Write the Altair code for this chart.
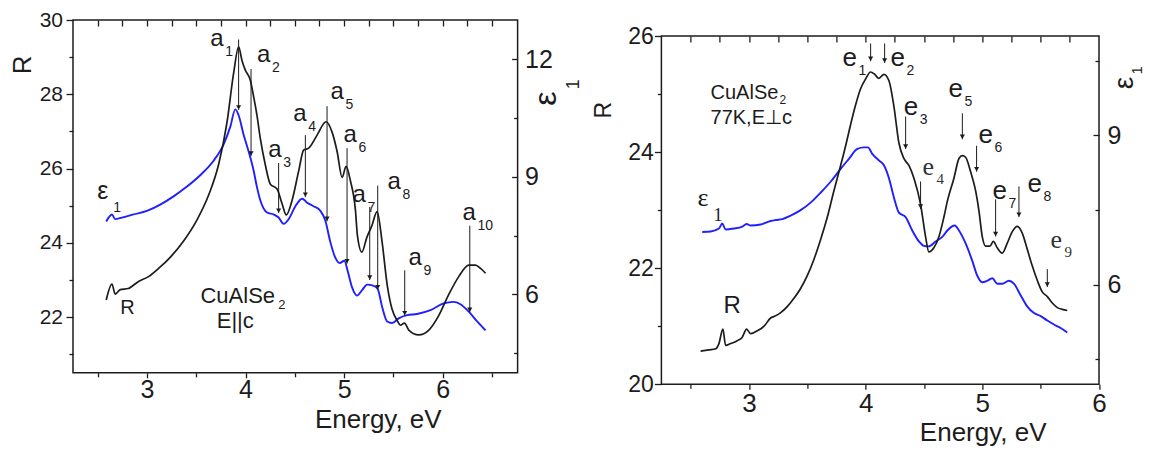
import altair as alt
import pandas as pd

# ---------------- left panel (E || c) ----------------
L_E_R = [2.587, 2.645, 2.678, 2.73, 2.81, 2.915, 3.016, 3.118, 3.236, 3.372, 3.508, 3.625, 3.727, 3.812,
         3.879, 3.93, 3.964, 3.998, 4.049, 4.082, 4.117, 4.15, 4.20, 4.252, 4.32, 4.37, 4.414, 4.472,
         4.539, 4.59, 4.64, 4.726, 4.817, 4.878, 4.929, 4.98, 5.02, 5.064, 5.115, 5.135, 5.18, 5.23,
         5.28, 5.335, 5.386, 5.437, 5.487, 5.538, 5.572, 5.612, 5.656, 5.757, 5.86, 5.96, 6.062, 6.163,
         6.265, 6.333, 6.384, 6.435]
L_R = [22.46, 22.89, 22.62, 22.74, 22.77, 22.96, 23.09, 23.31, 23.61, 24.05, 24.62, 25.28, 26.11, 27.24,
       28.56, 29.28, 28.91, 28.65, 28.38, 27.94, 27.42, 26.81, 26.11, 25.58, 25.45, 25.06, 24.75, 25.14,
       25.93, 26.50, 26.55, 26.90, 27.26, 26.98, 26.46, 25.76, 26.06, 25.67, 24.88, 24.20, 23.75, 24.14,
       24.45, 24.84, 24.01, 22.87, 22.21, 21.91, 21.78, 21.84, 21.65, 21.52, 21.65, 22.04, 22.61, 23.09,
       23.40, 23.40, 23.31, 23.18]
L_E_EPS = [2.587, 2.645, 2.678, 2.746, 2.864, 3.0, 3.135, 3.27, 3.406, 3.54, 3.676, 3.778, 3.846, 3.896,
           3.93, 3.98, 4.03, 4.082, 4.115, 4.15, 4.218, 4.285, 4.336, 4.387, 4.438, 4.506, 4.574, 4.625,
           4.69, 4.76, 4.81, 4.86, 4.912, 4.955, 5.003, 5.037, 5.081, 5.132, 5.183, 5.234, 5.30, 5.341,
           5.386, 5.437, 5.487, 5.554, 5.64, 5.74, 5.876, 6.01, 6.11, 6.18, 6.265, 6.35, 6.435]
L_EPS = [7.86, 8.04, 7.92, 7.96, 8.04, 8.13, 8.29, 8.50, 8.75, 9.04, 9.41, 9.83, 10.28, 10.72,
         10.57, 10.08, 9.66, 9.16, 8.75, 8.40, 8.09, 8.04, 7.96, 7.80, 7.92, 8.25, 8.44, 8.34,
         8.25, 8.13, 7.88, 7.34, 6.93, 6.80, 6.86, 6.59, 6.18, 5.97, 6.11, 6.25, 6.22, 6.14,
         5.68, 5.31, 5.27, 5.39, 5.47, 5.50, 5.60, 5.77, 5.81, 5.75, 5.56, 5.31, 5.08]

L_MARK_E = [3.930, 4.056, 4.336, 4.607, 4.827, 5.030, 5.260, 5.341, 5.615, 6.275]
L_MARK_TOP = [29.475, 28.68, 26.15, 26.90, 27.68, 26.55, 24.97, 25.54, 23.26, 24.46]
L_MARK_BOT = [27.58, 26.34, 24.80, 25.23, 24.58, 23.44, 23.00, 22.74, 22.04, 22.13]
L_LAB_E = [3.643, 4.117, 4.231, 4.485, 4.861, 4.993, 5.084, 5.440, 5.653, 6.201]
L_LAB_R = [29.31, 28.86, 26.32, 27.29, 27.87, 26.71, 25.11, 25.45, 23.40, 24.61]
L_LAB_MAIN = ["a"] * 10
L_LAB_SUB = ["1", "2", "3", "4", "5", "6", "7", "8", "9", "10"]

L_X_MAJOR = [3, 4, 5, 6]
L_X_MINOR = [2.5, 3.5, 4.5, 5.5, 6.5]
L_X_TOP = [2.5, 2.75, 3.0, 3.25, 3.5, 3.75, 4.0, 4.25, 4.5, 4.75, 5.0, 5.25, 5.5, 5.75, 6.0, 6.25, 6.5]
L_R_MAJOR = [22, 24, 26, 28, 30]
L_R_MINOR = [21, 23, 25, 27, 29]
L_EPS_MAJOR = [6, 9, 12]
L_EPS_MINOR = [4.5, 7.5, 10.5]

# ---------------- right panel (77K, E ⊥ c) ----------------
R_E_R = [2.586, 2.657, 2.715, 2.743, 2.777, 2.80, 2.843, 2.90, 2.943, 2.98, 3.015, 3.072, 3.13, 3.186,
         3.22, 3.27, 3.33, 3.386, 3.443, 3.50, 3.557, 3.614, 3.672, 3.728, 3.786, 3.829, 3.871, 3.914,
         3.957, 4.0, 4.043, 4.077, 4.114, 4.157, 4.20, 4.243, 4.285, 4.328, 4.371, 4.414, 4.471, 4.514,
         4.542, 4.585, 4.628, 4.671, 4.70, 4.757, 4.80, 4.829, 4.857, 4.90, 4.943, 4.971, 5.0, 5.028,
         5.065, 5.094, 5.128, 5.171, 5.214, 5.257, 5.30, 5.343, 5.386, 5.428, 5.471, 5.514, 5.557, 5.60,
         5.643, 5.686, 5.728]
R_R = [20.57, 20.59, 20.61, 20.70, 20.95, 20.67, 20.70, 20.75, 20.81, 20.95, 20.87, 20.92, 21.00, 21.14,
       21.17, 21.23, 21.34, 21.48, 21.65, 21.87, 22.15, 22.49, 22.88, 23.33, 23.77, 24.11, 24.47, 24.81,
       25.09, 25.26, 25.38, 25.34, 25.27, 25.34, 25.23, 24.78, 24.16, 23.89, 23.77, 23.55, 23.10, 22.54,
       22.28, 22.35, 22.54, 22.88, 23.15, 23.55, 23.89, 23.94, 23.91, 23.66, 23.33, 22.99, 22.54, 22.38,
       22.38, 22.46, 22.35, 22.26, 22.43, 22.63, 22.72, 22.60, 22.32, 22.04, 21.79, 21.59, 21.51, 21.40,
       21.32, 21.29, 21.27]
R_E_EPS = [2.60, 2.672, 2.743, 2.772, 2.80, 2.871, 2.943, 2.98, 3.015, 3.10, 3.186, 3.229, 3.286, 3.357,
           3.443, 3.529, 3.614, 3.70, 3.786, 3.857, 3.929, 3.986, 4.02, 4.057, 4.114, 4.157, 4.20, 4.243,
           4.285, 4.343, 4.40, 4.457, 4.50, 4.542, 4.60, 4.657, 4.70, 4.763, 4.80, 4.857, 4.914, 4.957,
           5.0, 5.043, 5.086, 5.128, 5.171, 5.228, 5.271, 5.328, 5.386, 5.443, 5.50, 5.557, 5.614, 5.671,
           5.728]
R_EPS = [7.06, 7.07, 7.13, 7.23, 7.11, 7.13, 7.17, 7.22, 7.19, 7.21, 7.28, 7.30, 7.32, 7.39,
         7.50, 7.65, 7.85, 8.07, 8.33, 8.53, 8.73, 8.76, 8.76, 8.63, 8.50, 8.40, 8.14, 7.75,
         7.45, 7.36, 7.09, 6.87, 6.78, 6.77, 6.87, 6.96, 7.09, 7.19, 7.09, 6.83, 6.48, 6.18,
         6.05, 6.08, 6.13, 6.02, 6.02, 6.08, 6.02, 5.79, 5.56, 5.43, 5.37, 5.28, 5.20, 5.13,
         5.04]

R_MARK_E = [4.043, 4.163, 4.343, 4.471, 4.829, 4.951, 5.114, 5.314, 5.557]
R_MARK_TOP = [25.871, 25.871, 24.612, 23.493, 24.668, 24.109, 23.186, 23.409, 21.983]
R_MARK_BOT = [25.564, 25.535, 24.054, 23.018, 24.221, 23.661, 22.544, 22.879, 21.676]
R_LAB_E = [3.803, 4.214, 4.326, 4.488, 4.711, 4.968, 5.088, 5.388, 5.585]
R_LAB_R = [25.485, 25.485, 24.646, 23.606, 24.948, 24.159, 23.186, 23.320, 22.347]
R_LAB_MAIN = ["e"] * 9
R_LAB_SUB = ["1", "2", "3", "4", "5", "6", "7", "8", "9"]

R_X_MAJOR = [3, 4, 5, 6]
R_X_MINOR = [2.5, 3.5, 4.5, 5.5]
R_X_TOP = [2.5, 2.75, 3.0, 3.25, 3.5, 3.75, 4.0, 4.25, 4.5, 4.75, 5.0, 5.25, 5.5, 5.75]
R_R_MAJOR = [20, 22, 24, 26]
R_R_MINOR = [21, 23, 25]
R_EPS_MAJOR = [6, 9]
R_EPS_MINOR = [4.5, 7.5, 10.5]

FONT = "Liberation Sans"
SERIF = "Liberation Serif"
INK = "#1c1c1c"
BLUE = "#1f1fff"


def txt(E, R, s, xs, rs, size, angle=0, align="left", dx=0, dy=0, font=FONT):
    df = pd.DataFrame({"E": [E], "R": [R], "t": [s]})
    return alt.Chart(df).mark_text(
        align=align, baseline="alphabetic", fontSize=size, font=font, color=INK,
        angle=angle, dx=dx, dy=dy
    ).encode(
        x=alt.X("E:Q", scale=xs, axis=None),
        y=alt.Y("R:Q", scale=rs, axis=None),
        text="t:N",
    )


def ax(orient, values, size, labels=True, offset=0, lab_size=24, lab_pad=2, title=None, **kw):
    args = dict(orient=orient, values=values, tickSize=size, tickColor=INK, tickWidth=1.3,
                domain=False, grid=False, labels=labels, offset=offset, title=title)
    if labels:
        args.update(labelFont=FONT, labelFontSize=lab_size, labelColor=INK, labelPadding=lab_pad,
                    labelFlush=False, labelOverlap=False, format="d")
    args.update(kw)
    return alt.Axis(**args)


def panel(w, h, xdom, rdom, edom, E_R, R, E_EPS, EPS,
          mark_e, mark_top, mark_bot, lab_e, lab_r, lab_main, lab_sub,
          x_major, x_minor, x_top, r_major, r_minor, e_major, e_minor,
          sizes, texts, serif_subs):
    xs = alt.Scale(domain=xdom, nice=False, zero=False)
    rs = alt.Scale(domain=rdom, nice=False, zero=False)
    es = alt.Scale(domain=edom, nice=False, zero=False)

    dfR = pd.DataFrame({"E": E_R, "R": R})
    dfE = pd.DataFrame({"E": E_EPS, "eps": EPS})
    dfM = pd.DataFrame({"E": mark_e, "top": mark_top, "bot": mark_bot})
    dfL = pd.DataFrame({"E": lab_e, "R": lab_r, "main": lab_main, "sub": lab_sub})

    r_line = alt.Chart(dfR).mark_line(color=INK, strokeWidth=1.7, interpolate="monotone").encode(
        x=alt.X("E:Q", scale=xs, axis=ax("bottom", x_major, 5, lab_size=sizes["bottom"],
                                           lab_pad=sizes["bpad"], title="Energy, eV",
                                           titleFont=FONT, titleFontSize=26, titleFontWeight="normal",
                                           titleColor=INK, titleX=sizes["tx"], titleY=sizes["ty"],
                                           titleAlign="center", titleBaseline="alphabetic")),
        y=alt.Y("R:Q", scale=rs, axis=ax("left", r_major, 7, lab_size=sizes["left"],
                                           lab_pad=sizes["lpad"])),
    )
    e_line = alt.Chart(dfE).mark_line(color=BLUE, strokeWidth=1.9, interpolate="monotone").encode(
        x=alt.X("E:Q", scale=xs, axis=ax("top", x_top, 6, labels=False, offset=-6)),
        y=alt.Y("eps:Q", scale=es, axis=ax("right", e_major, 6, offset=-6,
                                             lab_size=sizes["right"], lab_pad=sizes["rpad"])),
    )
    r_minor_l = alt.Chart(dfR).mark_line(opacity=0).encode(
        x=alt.X("E:Q", scale=xs, axis=ax("bottom", x_minor, 4, labels=False)),
        y=alt.Y("R:Q", scale=rs, axis=ax("left", r_minor, 4, labels=False)),
    )
    e_minor_l = alt.Chart(dfE).mark_line(opacity=0).encode(
        x=alt.X("E:Q", scale=xs, axis=None),
        y=alt.Y("eps:Q", scale=es, axis=ax("right", e_minor, 4, labels=False, offset=-4)),
    )
    rules = alt.Chart(dfM).mark_rule(color=INK, strokeWidth=1).encode(
        x=alt.X("E:Q", scale=xs, axis=None),
        y=alt.Y("top:Q", scale=rs, axis=None),
        y2="bot:Q",
    )
    heads = alt.Chart(dfM).mark_point(shape="triangle-down", filled=True, size=26, color=INK,
                                      opacity=1, yOffset=-2.5).encode(
        x=alt.X("E:Q", scale=xs, axis=None),
        y=alt.Y("bot:Q", scale=rs, axis=None),
    )
    sans = alt.FieldOneOfPredicate(field="sub", oneOf=serif_subs)
    lab_main_l = alt.Chart(dfL).transform_filter(~sans).mark_text(
        align="left", baseline="alphabetic", fontSize=sizes["lab"], font=FONT, color=INK
    ).encode(x=alt.X("E:Q", scale=xs, axis=None), y=alt.Y("R:Q", scale=rs, axis=None), text="main:N")
    lab_sub_l = alt.Chart(dfL).transform_filter(~sans).mark_text(
        align="left", baseline="alphabetic", fontSize=14, font=FONT, color=INK,
        dx=sizes["sdx"], dy=sizes["sdy"]
    ).encode(x=alt.X("E:Q", scale=xs, axis=None), y=alt.Y("R:Q", scale=rs, axis=None), text="sub:N")
    lab_main_s = alt.Chart(dfL).transform_filter(sans).mark_text(
        align="left", baseline="alphabetic", fontSize=sizes["lab"], font=SERIF, color="#333333"
    ).encode(x=alt.X("E:Q", scale=xs, axis=None), y=alt.Y("R:Q", scale=rs, axis=None), text="main:N")
    lab_sub_s = alt.Chart(dfL).transform_filter(sans).mark_text(
        align="left", baseline="alphabetic", fontSize=15, font=SERIF, color="#333333",
        dx=sizes["sdx"] - 2, dy=sizes["sdy"]
    ).encode(x=alt.X("E:Q", scale=xs, axis=None), y=alt.Y("R:Q", scale=rs, axis=None), text="sub:N")

    layers = [r_minor_l, e_minor_l, e_line, r_line, rules, heads,
              lab_main_l, lab_sub_l, lab_main_s, lab_sub_s]
    for t in texts:
        layers.append(txt(t[0], t[1], t[2], xs, rs, t[3], angle=t[4], align=t[5], font=t[6]))
    return alt.layer(*layers).properties(width=w, height=h).resolve_scale(
        y="independent").resolve_axis(x="independent", y="independent")


left = panel(
    444.6, 352.8, [2.25, 6.76], [20.5, 30], [4, 13],
    L_E_R, L_R, L_E_EPS, L_EPS,
    L_MARK_E, L_MARK_TOP, L_MARK_BOT, L_LAB_E, L_LAB_R, L_LAB_MAIN, L_LAB_SUB,
    L_X_MAJOR, L_X_MINOR, L_X_TOP, L_R_MAJOR, L_R_MINOR, L_EPS_MAJOR, L_EPS_MINOR,
    dict(bottom=25, bpad=0, left=21, lpad=3.5, right=25, rpad=7, tx=304.8, ty=54.6,
         lab=24, sdx=15, sdy=10),
    [
        (2.496, 25.18, "ε", 25, 0, "left", FONT),
        (2.658, 24.84, "1", 14, 0, "left", FONT),
        (2.729, 22.09, "R", 20, 0, "left", FONT),
        (3.543, 22.38, "CuAlSe", 22, 0, "left", FONT),
        (4.333, 22.22, "2", 13, 0, "left", FONT),
        (3.896, 21.70, "E||c", 22, 0, "center", FONT),
        (1.825, 28.79, "R", 26, 270, "center", FONT),
        (7.145, 27.88, "ε", 32, 270, "center", FONT),
        (7.379, 28.27, "1", 18, 270, "center", FONT),
    ],
    ["__none__"],
)

right = panel(
    437.6, 348.2, [2.25, 6.0], [20, 26], [4, 11],
    R_E_R, R_R, R_E_EPS, R_EPS,
    R_MARK_E, R_MARK_TOP, R_MARK_BOT, R_LAB_E, R_LAB_R, R_LAB_MAIN, R_LAB_SUB,
    R_X_MAJOR, R_X_MINOR, R_X_TOP, R_R_MAJOR, R_R_MINOR, R_EPS_MAJOR, R_EPS_MINOR,
    dict(bottom=26, bpad=1, left=23, lpad=1, right=25, rpad=8, tx=321.3, ty=56,
         lab=26, sdx=16, sdy=9),
    [
        (2.560, 23.069, "ε", 26, 0, "left", SERIF),
        (2.697, 22.82, "1", 18, 0, "left", SERIF),
        (2.783, 21.223, "R", 24, 0, "left", FONT),
        (2.671, 24.914, "CuAlSe", 20, 0, "left", FONT),
        (3.263, 24.83, "2", 12, 0, "left", FONT),
        (2.671, 24.477, "77K,E\u22a5c", 20, 0, "left", FONT),
        (1.815, 24.72, "R", 23, 270, "center", FONT),
        (6.288, 25.19, "ε", 28, 270, "center", FONT),
        (6.365, 25.41, "1", 15, 270, "center", FONT),
    ],
    ["4", "9"],
)

spacer = alt.Chart(pd.DataFrame({"a": [0]})).mark_point(opacity=0).encode(
    x=alt.value(0), y=alt.value(0)
).properties(width=437.6, height=15.6, view=alt.ViewBackground(stroke=None))

chart = alt.hconcat(
    left,
    alt.vconcat(spacer, right, spacing=0, bounds="flush"),
    spacing=143.4, bounds="flush",
).properties(
    padding={"left": 1, "top": 0, "right": -2, "bottom": 0}
).configure_view(stroke=INK, strokeWidth=1.5)

chart.save("out.html", embed_options={"renderer": "svg", "actions": False})
